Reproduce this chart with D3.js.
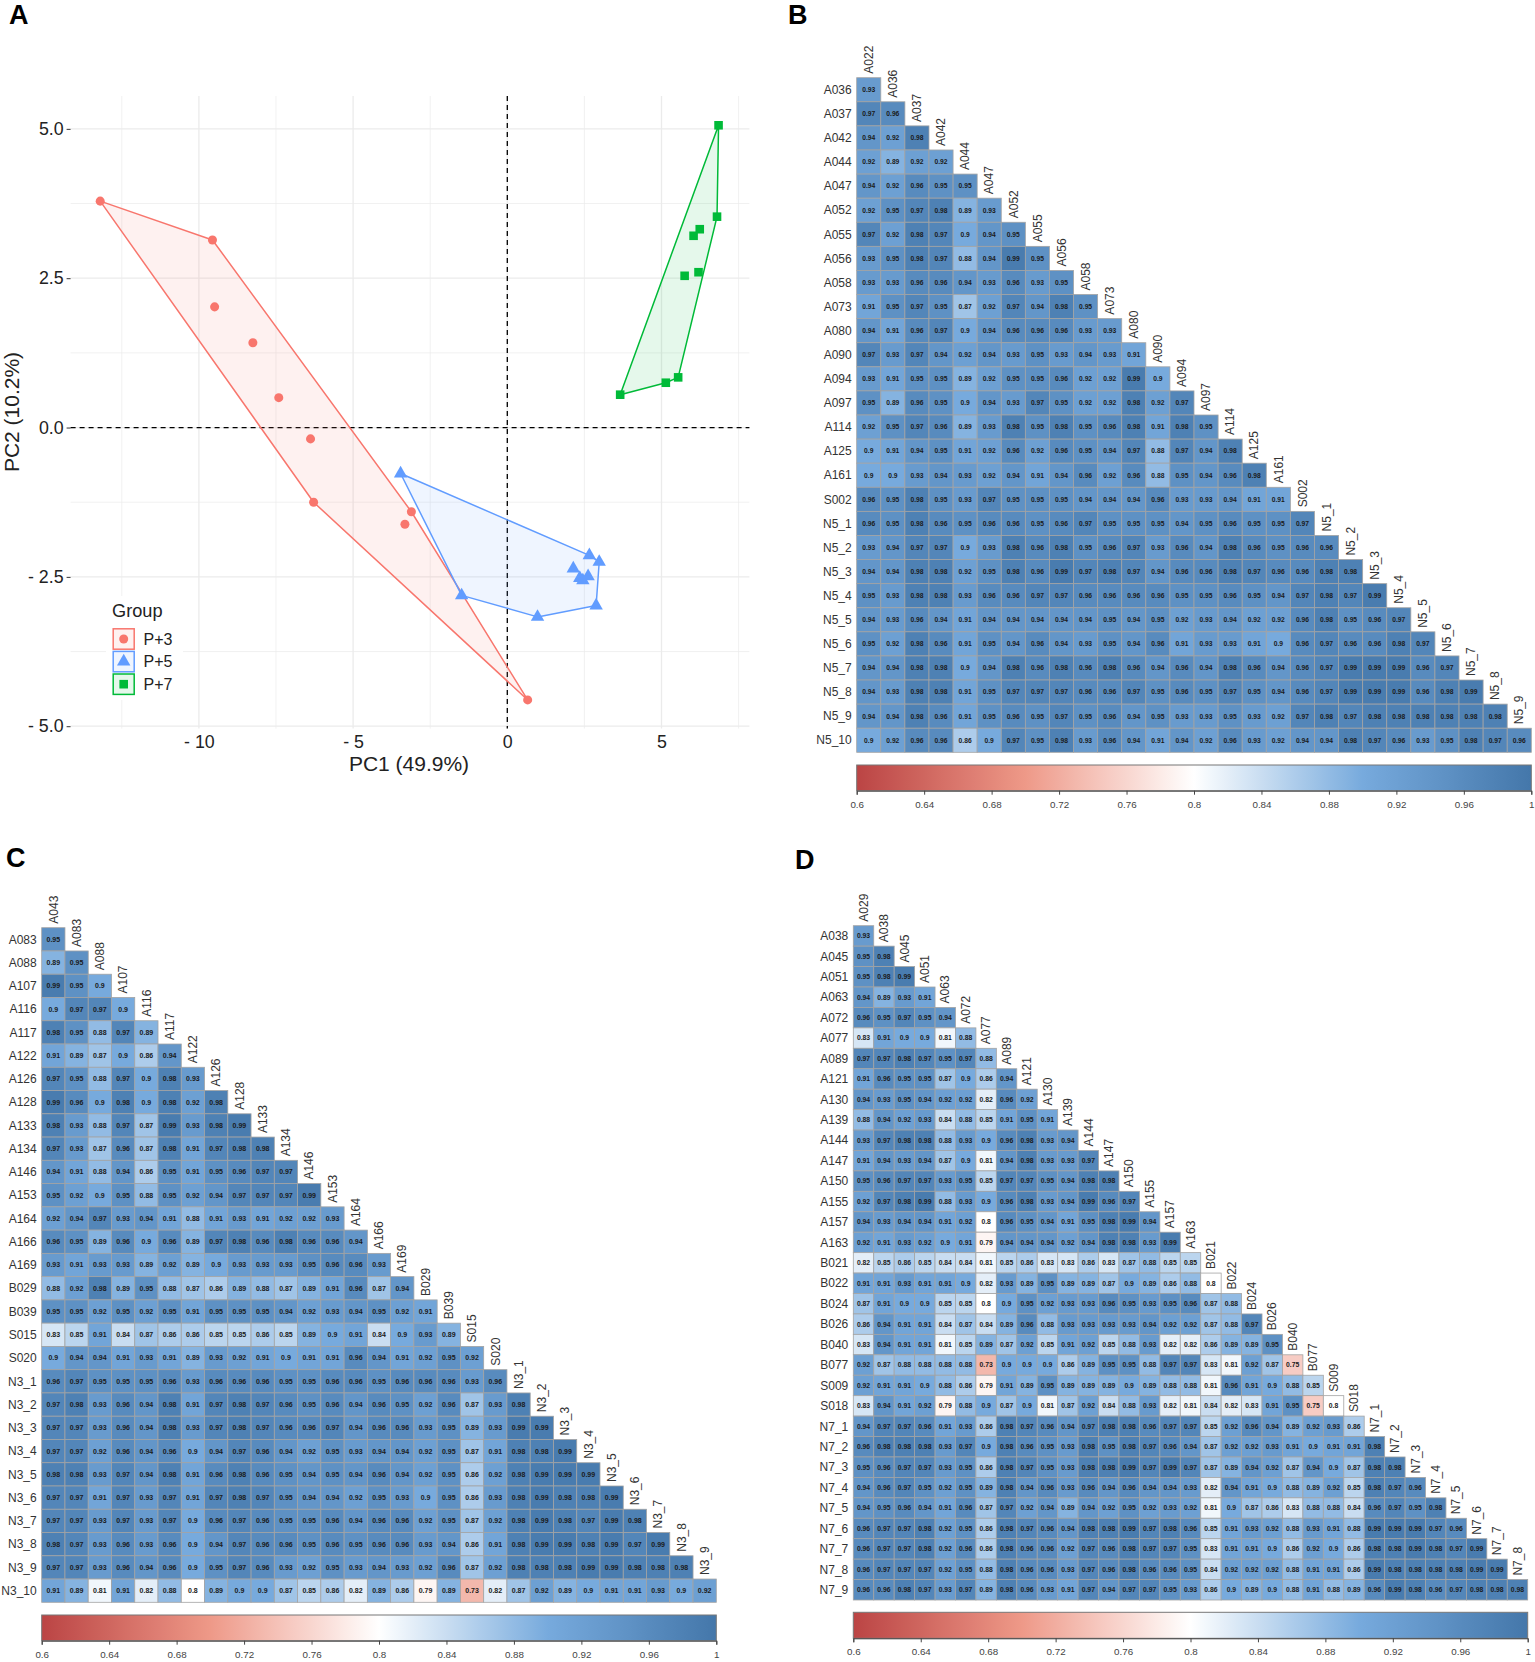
<!DOCTYPE html>
<html>
<head>
<meta charset="utf-8">
<script src="https://cdn.jsdelivr.net/npm/d3@7"></script>
<style>
  body { margin: 0; background: #fff; }
  svg { display: block; font-family: "Liberation Sans", Arial, sans-serif; }
</style>
</head>
<body>
<svg id="fig" width="1535" height="1662"></svg>
<script>
// panel A: PCA scores
const groupNames = ['P+3', 'P+5', 'P+7'];
const groupColors = ['#F8766D', '#619CFF', '#00BA38'];
const p3Points = [[-13.2,3.79],[-9.56,3.14],[-9.49,2.02],[-8.25,1.42],[-7.41,0.5],[-6.38,-0.19],[-6.28,-1.25],[-3.11,-1.41],[-3.32,-1.62],[0.66,-4.56]];
const p5Points = [[-3.46,-0.77],[2.66,-2.14],[2.98,-2.25],[2.14,-2.36],[2.62,-2.49],[2.35,-2.52],[2.45,-2.56],[2.88,-2.98],[0.98,-3.17],[-1.48,-2.81]];
const p7Points = [[6.85,5.06],[6.8,3.53],[6.24,3.32],[6.04,3.21],[6.2,2.6],[5.75,2.54],[5.54,0.84],[5.14,0.75],[3.66,0.55]];
const pcaXTicks = [-10, -5, 0, 5];
const pcaYTicks = [-5, -2.5, 0, 2.5, 5];

// correlation heatmaps: lower triangle, row by row
const barTicks = [0.6, 0.64, 0.68, 0.72, 0.76, 0.8, 0.84, 0.88, 0.92, 0.96, 1];

const bCols = ['A022','A036','A037','A042','A044','A047','A052','A055','A056','A058','A073','A080','A090','A094','A097','A114','A125','A161','S002','N5_1','N5_2','N5_3','N5_4','N5_5','N5_6','N5_7','N5_8','N5_9'];
const bRowNames = ['A036','A037','A042','A044','A047','A052','A055','A056','A058','A073','A080','A090','A094','A097','A114','A125','A161','S002','N5_1','N5_2','N5_3','N5_4','N5_5','N5_6','N5_7','N5_8','N5_9','N5_10'];
const bValues = [
  [.93],
  [.97,.96],
  [.94,.92,.98],
  [.92,.89,.92,.92],
  [.94,.92,.96,.95,.95],
  [.92,.95,.97,.98,.89,.93],
  [.97,.92,.98,.97,.9,.94,.95],
  [.93,.95,.98,.97,.88,.94,.99,.95],
  [.93,.93,.96,.96,.94,.93,.96,.93,.95],
  [.91,.95,.97,.95,.87,.92,.97,.94,.98,.95],
  [.94,.91,.96,.97,.9,.94,.96,.96,.96,.93,.93],
  [.97,.93,.97,.94,.92,.94,.93,.95,.93,.94,.93,.91],
  [.93,.91,.95,.95,.89,.92,.95,.95,.96,.92,.92,.99,.9],
  [.95,.89,.96,.95,.9,.94,.93,.97,.95,.92,.92,.98,.92,.97],
  [.92,.95,.97,.96,.89,.93,.98,.95,.98,.95,.96,.98,.91,.98,.95],
  [.9,.91,.94,.95,.91,.92,.96,.92,.96,.95,.94,.97,.88,.97,.94,.98],
  [.9,.9,.93,.94,.93,.92,.94,.91,.94,.96,.92,.96,.88,.95,.94,.96,.98],
  [.96,.95,.98,.95,.93,.97,.95,.95,.95,.94,.94,.94,.96,.93,.93,.94,.91,.91],
  [.96,.95,.98,.96,.95,.96,.96,.95,.96,.97,.95,.95,.95,.94,.95,.96,.95,.95,.97],
  [.93,.94,.97,.97,.9,.93,.98,.96,.98,.95,.96,.97,.93,.96,.94,.98,.96,.95,.96,.96],
  [.94,.94,.98,.98,.92,.95,.98,.96,.99,.97,.98,.97,.94,.96,.96,.98,.97,.96,.96,.98,.98],
  [.95,.93,.98,.98,.93,.96,.96,.97,.97,.96,.96,.96,.96,.95,.95,.96,.95,.94,.97,.98,.97,.99],
  [.94,.93,.96,.94,.91,.94,.94,.94,.94,.94,.95,.94,.95,.92,.93,.94,.92,.92,.96,.98,.95,.96,.97],
  [.95,.92,.98,.96,.91,.95,.94,.96,.94,.93,.95,.94,.96,.91,.93,.93,.91,.9,.96,.97,.96,.96,.98,.97],
  [.94,.94,.98,.98,.9,.94,.98,.96,.98,.96,.98,.96,.94,.96,.94,.98,.96,.94,.96,.97,.99,.99,.99,.96,.97],
  [.94,.93,.98,.98,.91,.95,.97,.97,.97,.96,.96,.97,.95,.96,.95,.97,.95,.94,.96,.97,.99,.99,.99,.96,.98,.99],
  [.94,.94,.98,.96,.91,.95,.96,.95,.97,.95,.96,.94,.95,.93,.93,.95,.93,.92,.97,.98,.97,.98,.98,.98,.98,.98,.98],
  [.9,.92,.96,.96,.86,.9,.97,.95,.98,.93,.96,.94,.91,.94,.92,.96,.93,.92,.94,.94,.98,.97,.96,.93,.95,.98,.97,.96]
];

const cCols = ['A043','A083','A088','A107','A116','A117','A122','A126','A128','A133','A134','A146','A153','A164','A166','A169','B029','B039','S015','S020','N3_1','N3_2','N3_3','N3_4','N3_5','N3_6','N3_7','N3_8','N3_9'];
const cRowNames = ['A083','A088','A107','A116','A117','A122','A126','A128','A133','A134','A146','A153','A164','A166','A169','B029','B039','S015','S020','N3_1','N3_2','N3_3','N3_4','N3_5','N3_6','N3_7','N3_8','N3_9','N3_10'];
const cValues = [
  [.95],
  [.89,.95],
  [.99,.95,.9],
  [.9,.97,.97,.9],
  [.98,.95,.88,.97,.89],
  [.91,.89,.87,.9,.86,.94],
  [.97,.95,.88,.97,.9,.98,.93],
  [.99,.96,.9,.98,.9,.98,.92,.98],
  [.98,.93,.88,.97,.87,.99,.93,.98,.99],
  [.97,.93,.87,.96,.87,.98,.91,.97,.98,.98],
  [.94,.91,.88,.94,.86,.95,.91,.95,.96,.97,.97],
  [.95,.92,.9,.95,.88,.95,.92,.94,.97,.97,.97,.99],
  [.92,.94,.97,.93,.94,.91,.88,.91,.93,.91,.92,.92,.93],
  [.96,.95,.89,.96,.9,.96,.89,.97,.98,.96,.98,.96,.96,.94],
  [.93,.91,.93,.93,.89,.92,.89,.9,.93,.93,.93,.95,.96,.96,.93],
  [.88,.92,.98,.89,.95,.88,.87,.86,.89,.88,.87,.89,.91,.96,.87,.94],
  [.95,.95,.92,.95,.92,.95,.91,.95,.95,.95,.94,.92,.93,.94,.95,.92,.91],
  [.83,.85,.91,.84,.87,.86,.86,.85,.85,.86,.85,.89,.9,.91,.84,.9,.93,.89],
  [.9,.94,.94,.91,.93,.91,.89,.93,.92,.91,.9,.91,.91,.96,.94,.91,.92,.95,.92],
  [.96,.97,.95,.95,.95,.96,.93,.96,.96,.96,.95,.95,.96,.96,.95,.96,.96,.96,.93,.96],
  [.97,.98,.93,.96,.94,.98,.91,.97,.98,.97,.96,.95,.96,.94,.96,.95,.92,.96,.87,.93,.98],
  [.97,.97,.93,.96,.94,.98,.93,.97,.98,.97,.96,.96,.97,.94,.96,.96,.93,.95,.89,.93,.99,.99],
  [.97,.97,.92,.96,.94,.96,.9,.94,.97,.96,.94,.92,.95,.93,.94,.94,.92,.95,.87,.91,.98,.98,.99],
  [.98,.98,.93,.97,.94,.98,.91,.96,.98,.96,.95,.94,.95,.94,.96,.94,.92,.95,.86,.92,.98,.99,.99,.99],
  [.97,.97,.91,.97,.93,.97,.91,.97,.98,.97,.95,.94,.94,.92,.95,.93,.9,.95,.86,.93,.98,.99,.98,.98,.99],
  [.97,.97,.93,.97,.93,.97,.9,.96,.97,.96,.95,.95,.96,.94,.96,.96,.92,.95,.87,.92,.98,.99,.98,.97,.99,.98],
  [.98,.97,.93,.96,.93,.96,.9,.94,.97,.96,.96,.95,.96,.95,.96,.96,.93,.94,.86,.91,.98,.99,.99,.98,.99,.97,.99],
  [.97,.97,.93,.96,.94,.96,.9,.95,.97,.96,.93,.92,.95,.93,.94,.93,.92,.96,.87,.92,.98,.98,.98,.99,.99,.98,.98,.98],
  [.91,.89,.81,.91,.82,.88,.8,.89,.9,.9,.87,.85,.86,.82,.89,.86,.79,.89,.73,.82,.87,.92,.89,.9,.91,.91,.93,.9,.92]
];

const dCols = ['A029','A038','A045','A051','A063','A072','A077','A089','A121','A130','A139','A144','A147','A150','A155','A157','A163','B021','B022','B024','B026','B040','B077','S009','S018','N7_1','N7_2','N7_3','N7_4','N7_5','N7_6','N7_7','N7_8'];
const dRowNames = ['A038','A045','A051','A063','A072','A077','A089','A121','A130','A139','A144','A147','A150','A155','A157','A163','B021','B022','B024','B026','B040','B077','S009','S018','N7_1','N7_2','N7_3','N7_4','N7_5','N7_6','N7_7','N7_8','N7_9'];
const dValues = [
  [.93],
  [.95,.98],
  [.95,.98,.99],
  [.94,.89,.93,.91],
  [.96,.95,.97,.95,.94],
  [.83,.91,.9,.9,.81,.88],
  [.97,.97,.98,.97,.95,.97,.88],
  [.91,.96,.95,.95,.87,.9,.86,.94],
  [.94,.93,.95,.94,.92,.92,.82,.96,.92],
  [.88,.94,.92,.93,.84,.88,.85,.91,.95,.91],
  [.93,.97,.98,.98,.88,.93,.9,.96,.98,.93,.94],
  [.91,.94,.93,.94,.87,.9,.81,.94,.98,.93,.93,.97],
  [.95,.96,.97,.97,.93,.95,.85,.97,.97,.95,.94,.98,.98],
  [.92,.97,.98,.99,.88,.93,.9,.96,.98,.93,.94,.99,.96,.97],
  [.94,.93,.94,.94,.91,.92,.8,.96,.95,.94,.91,.95,.98,.99,.94],
  [.92,.91,.93,.92,.9,.91,.79,.94,.94,.94,.92,.94,.98,.98,.93,.99],
  [.82,.85,.86,.85,.84,.84,.81,.85,.86,.83,.83,.86,.83,.87,.88,.85,.85],
  [.91,.91,.93,.91,.91,.9,.82,.93,.89,.95,.89,.89,.87,.9,.89,.86,.88,.8],
  [.87,.91,.9,.9,.85,.85,.8,.9,.95,.92,.93,.93,.96,.95,.93,.95,.96,.87,.88],
  [.86,.94,.91,.91,.84,.87,.84,.89,.96,.88,.93,.93,.93,.93,.94,.92,.92,.87,.88,.97],
  [.83,.94,.91,.91,.81,.85,.89,.87,.92,.85,.91,.92,.85,.88,.93,.82,.82,.86,.89,.89,.95],
  [.92,.87,.88,.88,.88,.88,.73,.9,.9,.9,.86,.89,.95,.95,.88,.97,.97,.83,.81,.92,.87,.75],
  [.92,.91,.91,.9,.88,.86,.79,.91,.89,.95,.89,.89,.89,.9,.89,.88,.88,.81,.96,.91,.9,.88,.85],
  [.83,.94,.91,.92,.79,.88,.9,.87,.9,.81,.87,.92,.84,.88,.93,.82,.81,.84,.82,.83,.91,.95,.75,.8],
  [.94,.97,.97,.96,.91,.93,.86,.98,.97,.96,.94,.97,.98,.98,.96,.97,.97,.85,.92,.96,.94,.89,.92,.93,.86],
  [.96,.98,.98,.98,.93,.97,.9,.98,.96,.95,.93,.98,.95,.98,.97,.96,.94,.87,.92,.92,.93,.91,.9,.91,.91,.98],
  [.95,.96,.97,.97,.93,.95,.86,.98,.97,.95,.93,.98,.98,.99,.97,.99,.97,.87,.89,.94,.92,.87,.94,.9,.87,.98,.98],
  [.94,.96,.97,.95,.92,.95,.89,.98,.94,.96,.93,.96,.94,.96,.94,.94,.93,.82,.94,.91,.9,.88,.89,.92,.85,.98,.97,.96],
  [.94,.95,.96,.94,.91,.96,.87,.97,.92,.94,.89,.94,.92,.95,.92,.93,.92,.81,.9,.87,.86,.83,.88,.88,.84,.96,.97,.95,.98],
  [.96,.97,.97,.98,.92,.95,.86,.98,.97,.96,.94,.98,.98,.99,.97,.98,.96,.85,.91,.93,.92,.88,.93,.91,.88,.99,.99,.99,.97,.96],
  [.96,.97,.97,.98,.92,.96,.86,.98,.96,.96,.92,.97,.96,.98,.97,.97,.95,.83,.91,.91,.9,.86,.92,.9,.86,.98,.98,.99,.98,.97,.99],
  [.96,.97,.97,.97,.92,.95,.88,.98,.96,.96,.93,.97,.96,.98,.96,.96,.95,.84,.92,.92,.92,.88,.91,.91,.86,.99,.98,.98,.98,.98,.99,.99],
  [.96,.96,.98,.97,.93,.97,.89,.98,.96,.93,.91,.97,.94,.97,.97,.95,.93,.86,.9,.89,.9,.88,.91,.88,.89,.96,.99,.98,.96,.97,.98,.98,.98]
];

const svg = d3.select('#fig');

// corrplot's usual palette
const corrColor = d3.scaleLinear()
  .domain([0.6, 0.7, 0.8, 0.9, 1])
  .range(['#BB4444', '#EE9988', '#FFFFFF', '#77AADD', '#4477AA']);

const defs = svg.append('defs');
const grad = defs.append('linearGradient').attr('id', 'corrGrad');
d3.range(0, 41).forEach(function (i) {
  const t = i / 40;
  grad.append('stop').attr('offset', t).attr('stop-color', corrColor(0.6 + 0.4 * t));
});

function drawPanelLetter(txt, x, y) {
  svg.append('text').attr('x', x).attr('y', y)
    .attr('font-size', 27).attr('font-weight', 'bold').attr('fill', '#000').text(txt);
}

function drawHeatmap(cols, rowNames, values, box) {
  const g = svg.append('g');
  const x = d3.scaleBand().domain(cols).range([box.left, box.right]);
  const y = d3.scaleBand().domain(rowNames).range([box.top, box.bottom]);

  values.forEach(function (row, i) {
    const rowG = g.append('g');
    rowG.selectAll('rect').data(row).join('rect')
      .attr('x', function (d, j) { return x(cols[j]); })
      .attr('y', y(rowNames[i]))
      .attr('width', x.bandwidth()).attr('height', y.bandwidth())
      .attr('fill', function (d) { return corrColor(d); })
      .attr('stroke', '#a3a3a3').attr('stroke-width', 0.8);
    rowG.selectAll('text').data(row).join('text')
      .attr('x', function (d, j) { return x(cols[j]) + x.bandwidth() / 2; })
      .attr('y', y(rowNames[i]) + y.bandwidth() / 2)
      .attr('dy', '0.35em').attr('text-anchor', 'middle')
      .attr('font-size', box.cellFont).attr('font-weight', 'bold').attr('fill', '#1a1a1a')
      .text(function (d) { return String(d); });
  });

  g.selectAll('text.rowlab').data(rowNames).join('text')
    .attr('class', 'rowlab')
    .attr('x', box.left - 5)
    .attr('y', function (d) { return y(d) + y.bandwidth() / 2; })
    .attr('dy', '0.35em').attr('text-anchor', 'end')
    .attr('font-size', 12).attr('fill', '#333').text(function (d) { return d; });

  g.selectAll('text.collab').data(cols).join('text')
    .attr('class', 'collab')
    .attr('transform', function (d, j) {
      return 'translate(' + (x(d) + x.bandwidth() / 2) + ',' + (y(rowNames[j]) - 4) + ') rotate(-90)';
    })
    .attr('dy', '0.35em')
    .attr('font-size', 12).attr('fill', '#333').text(function (d) { return d; });

  // colour bar
  const bar = d3.scaleLinear().domain([0.6, 1]).range([box.left, box.right]);
  g.append('rect')
    .attr('x', box.left).attr('y', box.barTop)
    .attr('width', box.right - box.left).attr('height', box.barBottom - box.barTop)
    .attr('fill', 'url(#corrGrad)').attr('stroke', '#777').attr('stroke-width', 1);
  const axis = g.append('g').attr('transform', 'translate(0,' + box.barBottom + ')')
    .call(d3.axisBottom(bar).tickValues(barTicks).tickSize(4).tickPadding(6).tickFormat(function (d) { return String(d); }));
  axis.select('.domain').attr('stroke', '#444');
  axis.selectAll('.tick line').attr('stroke', '#444');
  axis.selectAll('.tick text').attr('font-size', 9.8).attr('fill', '#444')
    .attr('font-family', '"Liberation Sans", Arial, sans-serif');
}

function drawPca() {
  const x = d3.scaleLinear().domain([-14.16, 7.85]).range([70.6, 749.4]);
  const y = d3.scaleLinear().domain([-5.04, 5.55]).range([728.6, 96]);
  const g = svg.append('g');
  const grid = g.append('g');

  // minor grid sits half way between majors
  const xMinor = [-12.5, -7.5, -2.5, 2.5, 7.5];
  const yMinor = [-3.75, -1.25, 1.25, 3.75];
  grid.selectAll('line.vmin').data(xMinor).join('line').attr('class', 'vmin')
    .attr('x1', x).attr('x2', x).attr('y1', y.range()[1]).attr('y2', y.range()[0])
    .attr('stroke', '#ebebeb').attr('stroke-width', 0.7);
  grid.selectAll('line.hmin').data(yMinor).join('line').attr('class', 'hmin')
    .attr('y1', y).attr('y2', y).attr('x1', x.range()[0]).attr('x2', x.range()[1])
    .attr('stroke', '#ebebeb').attr('stroke-width', 0.7);
  grid.selectAll('line.vmaj').data(pcaXTicks).join('line').attr('class', 'vmaj')
    .attr('x1', x).attr('x2', x).attr('y1', y.range()[1]).attr('y2', y.range()[0])
    .attr('stroke', '#ebebeb').attr('stroke-width', 1.3);
  grid.selectAll('line.hmaj').data(pcaYTicks).join('line').attr('class', 'hmaj')
    .attr('y1', y).attr('y2', y).attr('x1', x.range()[0]).attr('x2', x.range()[1])
    .attr('stroke', '#ebebeb').attr('stroke-width', 1.3);

  const fmtMinus = function (s, v) { return v < 0 ? '- ' + s.replace('-', '') : s; };
  const ax = g.append('g').attr('transform', 'translate(0,' + y.range()[0] + ')')
    .call(d3.axisBottom(x).tickValues(pcaXTicks).tickSize(0).tickPadding(7)
      .tickFormat(function (d) { return fmtMinus(String(d), d); }));
  const ay = g.append('g').attr('transform', 'translate(' + x.range()[0] + ',0)')
    .call(d3.axisLeft(y).tickValues(pcaYTicks).tickSize(4).tickPadding(3)
      .tickFormat(function (d) { return fmtMinus(d.toFixed(1), d); }));
  [ax, ay].forEach(function (a) {
    a.select('.domain').remove();
    a.selectAll('.tick line').attr('stroke', '#333');
    a.selectAll('.tick text').attr('font-size', 17.8).attr('fill', '#222')
      .attr('font-family', '"Liberation Sans", Arial, sans-serif');
  });

  g.append('text').attr('x', 409).attr('y', 764).attr('dy', '0.35em').attr('text-anchor', 'middle')
    .attr('font-size', 21).attr('fill', '#222').text('PC1 (49.9%)');
  g.append('text').attr('transform', 'translate(12,412) rotate(-90)').attr('dy', '0.35em').attr('text-anchor', 'middle')
    .attr('font-size', 21).attr('fill', '#222').text('PC2 (10.2%)');

  // zero lines
  g.append('line').attr('x1', x(0)).attr('x2', x(0)).attr('y1', y.range()[1]).attr('y2', y.range()[0])
    .attr('stroke', '#000').attr('stroke-width', 1.3).attr('stroke-dasharray', '5,4');
  g.append('line').attr('y1', y(0)).attr('y2', y(0)).attr('x1', x.range()[0]).attr('x2', x.range()[1])
    .attr('stroke', '#000').attr('stroke-width', 1.3).attr('stroke-dasharray', '5,4');

  const symbols = [d3.symbolCircle, d3.symbolTriangle, d3.symbolSquare];
  const sizes = [64, 78, 74];
  const allPoints = [p3Points, p5Points, p7Points];

  allPoints.forEach(function (pts, k) {
    const px = pts.map(function (p) { return [x(p[0]), y(p[1])]; });
    g.append('path').attr('d', 'M' + d3.polygonHull(px).join('L') + 'Z')
      .attr('fill', groupColors[k]).attr('fill-opacity', 0.1)
      .attr('stroke', groupColors[k]).attr('stroke-width', 1.5).attr('stroke-linejoin', 'round');
  });
  allPoints.forEach(function (pts, k) {
    g.selectAll('path.pt' + k).data(pts).join('path').attr('class', 'pt' + k)
      .attr('transform', function (d) { return 'translate(' + x(d[0]) + ',' + y(d[1]) + ')'; })
      .attr('d', d3.symbol().type(symbols[k]).size(sizes[k]))
      .attr('fill', groupColors[k]);
  });

  // legend
  const leg = g.append('g');
  leg.append('rect').attr('x', 106).attr('y', 596).attr('width', 77).attr('height', 104).attr('fill', '#fff');
  leg.append('text').attr('x', 112).attr('y', 610.7).attr('dy', '0.35em')
    .attr('font-size', 18.2).attr('fill', '#222').text('Group');
  const keyY = d3.scalePoint().domain(groupNames).range([639, 684.2]);
  groupNames.forEach(function (name, k) {
    const cy = keyY(name);
    leg.append('rect').attr('x', 113.2).attr('y', cy - 10.2).attr('width', 21).attr('height', 20.4)
      .attr('fill', groupColors[k]).attr('fill-opacity', 0.1)
      .attr('stroke', groupColors[k]).attr('stroke-width', 1.5);
    leg.append('path').attr('transform', 'translate(123.7,' + cy + ')')
      .attr('d', d3.symbol().type(symbols[k]).size(sizes[k])).attr('fill', groupColors[k]);
    leg.append('text').attr('x', 143.5).attr('y', cy).attr('dy', '0.35em')
      .attr('font-size', 16).attr('fill', '#222').text(name);
  });
}

drawPca();
drawHeatmap(bCols, bRowNames, bValues, { left: 856.7, right: 1531.3, top: 77.7, bottom: 752.3, barTop: 765, barBottom: 790.7, cellFont: 6.7 });
drawHeatmap(cCols, cRowNames, cValues, { left: 41.7, right: 716.3, top: 927.7, bottom: 1602.3, barTop: 1615, barBottom: 1640.7, cellFont: 7 });
drawHeatmap(dCols, dRowNames, dValues, { left: 853.3, right: 1527.7, top: 925.7, bottom: 1600, barTop: 1612.3, barBottom: 1638.3, cellFont: 6.8 });

drawPanelLetter('A', 9, 24);
drawPanelLetter('B', 788, 24);
drawPanelLetter('C', 6, 867);
drawPanelLetter('D', 795, 869);
</script>
</body>
</html>
